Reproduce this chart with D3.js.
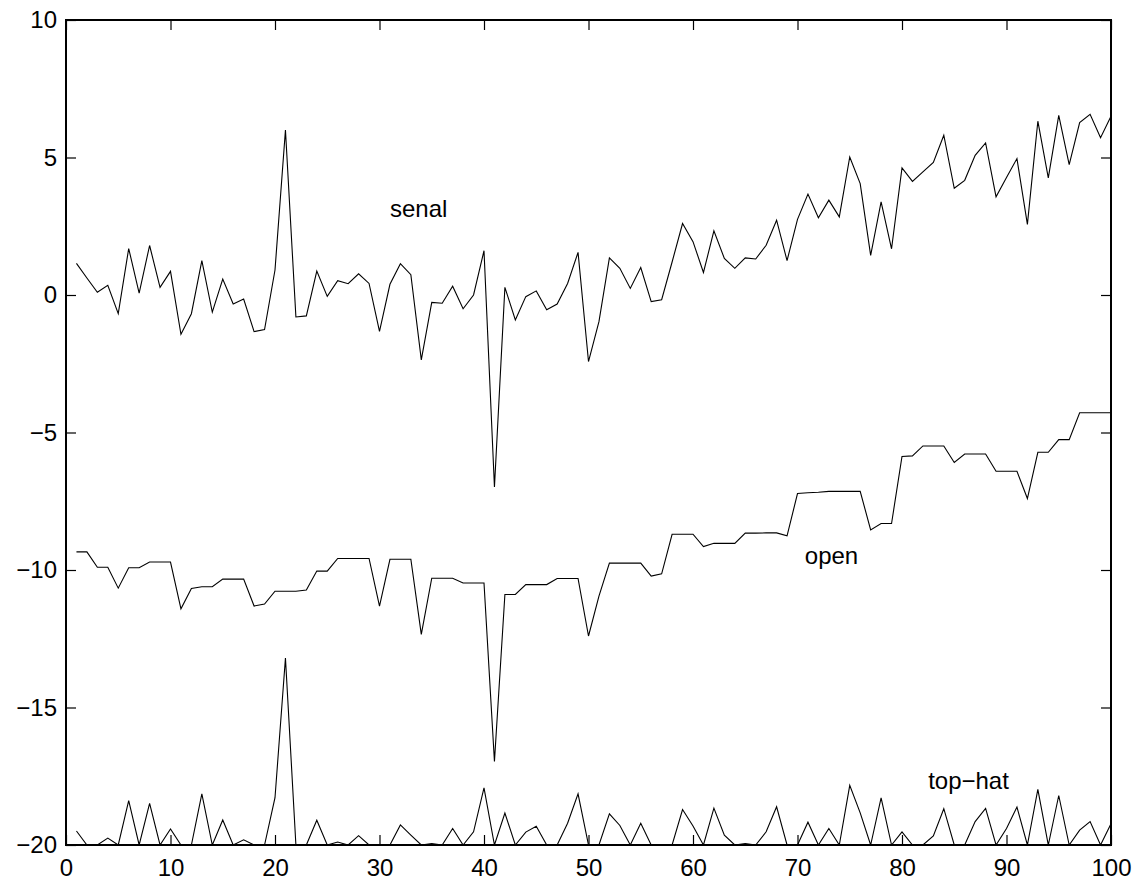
<!DOCTYPE html>
<html>
<head>
<meta charset="utf-8">
<script src="https://cdn.jsdelivr.net/npm/d3@7"></script>
<style>
  html, body { margin: 0; padding: 0; background: #fff; }
  svg { display: block; }
  text { font-family: "Liberation Sans", Arial, Helvetica, sans-serif; fill: #000; }
</style>
</head>
<body>
<svg id="chart" width="1141" height="889"></svg>
<script>
// ---- data ----
const xValues = d3.range(1, 101);

const senal = [
  1.15, 0.62, 0.10, 0.35, -0.68, 1.69, 0.07, 1.80, 0.28, 0.86,
  -1.43, -0.68, 1.25, -0.62, 0.58, -0.33, -0.15, -1.33, -1.26, 0.91,
  6.00, -0.80, -0.76, 0.87, -0.05, 0.52, 0.41, 0.77, 0.42, -1.32,
  0.39, 1.14, 0.74, -2.36, -0.27, -0.30, 0.32, -0.50, 0.00, 1.61,
  -6.98, 0.28, -0.91, -0.06, 0.15, -0.54, -0.33, 0.42, 1.55, -2.42,
  -0.97, 1.35, 0.97, 0.24, 1.00, -0.24, -0.17, 1.20, 2.60, 1.94,
  0.82, 2.33, 1.33, 0.97, 1.35, 1.31, 1.81, 2.72, 1.25, 2.75,
  3.67, 2.81, 3.45, 2.84, 5.02, 4.05, 1.44, 3.39, 1.68, 4.62,
  4.13, 4.48, 4.82, 5.81, 3.88, 4.17, 5.08, 5.53, 3.57, 4.27,
  4.96, 2.57, 6.32, 4.26, 6.53, 4.74, 6.27, 6.57, 5.72, 6.50
];

const openSeries = [
  -9.34, -9.34, -9.90, -9.90, -10.66, -9.92, -9.92, -9.71, -9.71, -9.71,
  -11.41, -10.67, -10.61, -10.61, -10.33, -10.33, -10.33, -11.31, -11.24, -10.77,
  -10.77, -10.77, -10.73, -10.04, -10.04, -9.58, -9.58, -9.58, -9.58, -11.31,
  -9.61, -9.61, -9.61, -12.34, -10.30, -10.30, -10.30, -10.47, -10.47, -10.47,
  -16.96, -10.89, -10.89, -10.53, -10.53, -10.53, -10.31, -10.31, -10.31, -12.40,
  -10.95, -9.75, -9.75, -9.75, -9.75, -10.22, -10.14, -8.70, -8.70, -8.70,
  -9.15, -9.03, -9.03, -9.03, -8.66, -8.66, -8.65, -8.65, -8.76, -7.22,
  -7.19, -7.17, -7.14, -7.14, -7.14, -7.14, -8.54, -8.31, -8.31, -5.87,
  -5.85, -5.49, -5.49, -5.49, -6.09, -5.78, -5.78, -5.78, -6.41, -6.41,
  -6.41, -7.40, -5.72, -5.72, -5.26, -5.26, -4.28, -4.28, -4.28, -4.28
];

const topHat = [
  -19.49, -20.00, -20.00, -19.75, -20.00, -18.39, -20.00, -18.49, -20.00, -19.42,
  -20.00, -20.00, -18.14, -20.00, -19.09, -20.00, -19.81, -20.00, -20.00, -18.28,
  -13.20, -20.00, -20.00, -19.10, -20.00, -19.89, -20.00, -19.66, -20.00, -20.00,
  -20.00, -19.27, -19.64, -20.00, -19.95, -20.00, -19.40, -20.00, -19.52, -17.92,
  -20.00, -18.84, -20.00, -19.53, -19.32, -20.00, -20.00, -19.21, -18.14, -20.00,
  -20.00, -18.87, -19.29, -20.00, -19.21, -20.00, -20.00, -20.00, -18.71, -19.31,
  -20.00, -18.66, -19.64, -20.00, -19.95, -20.00, -19.52, -18.61, -20.00, -20.00,
  -19.17, -20.00, -19.40, -20.00, -17.83, -18.83, -20.00, -18.29, -20.00, -19.52,
  -20.00, -20.00, -19.67, -18.68, -20.00, -20.00, -19.15, -18.67, -20.00, -19.40,
  -18.62, -20.00, -17.98, -20.00, -18.20, -20.00, -19.46, -19.15, -20.00, -19.23
];

const xTicks = [0, 10, 20, 30, 40, 50, 60, 70, 80, 90, 100];
const yTicks = [10, 5, 0, -5, -10, -15, -20];

const labelTexts = ["senal", "open", "top\u2212hat"];
const labelX = [31.0, 70.7, 82.5];
const labelY = [3.1, -9.5, -17.7];

// ---- layout ----
const svg = d3.select("#chart");
const padL = 66, padR = 1111, padT = 20, padB = 845;
const x = d3.scaleLinear().domain([0, 100]).range([padL, padR]);
const y = d3.scaleLinear().domain([-20, 10]).range([padB, padT]);

const fmt = d => d < 0 ? "\u2212" + Math.abs(d) : String(d);

// clip
svg.append("clipPath").attr("id", "clip")
  .append("rect").attr("x", padL).attr("y", padT)
  .attr("width", padR - padL).attr("height", padB - padT);

const line = d3.line().x((d, i) => x(xValues[i])).y(d => y(d));

const g = svg.append("g").attr("clip-path", "url(#clip)");
[senal, openSeries, topHat].forEach(series => {
  g.append("path")
    .datum(series)
    .attr("d", line)
    .attr("fill", "none")
    .attr("stroke", "#000")
    .attr("stroke-width", 1.1)
    .attr("stroke-linejoin", "miter");
});

// axes (MATLAB style box, inward ticks)
const tickLen = 10;
const axBottom = svg.append("g").attr("transform", `translate(0,${padB})`)
  .call(d3.axisBottom(x).tickValues(xTicks).tickSizeInner(-tickLen).tickSizeOuter(0).tickPadding(14).tickFormat(fmt));
const axTop = svg.append("g").attr("transform", `translate(0,${padT})`)
  .call(d3.axisTop(x).tickValues(xTicks).tickSizeInner(-tickLen).tickSizeOuter(0).tickFormat(""));
const axLeft = svg.append("g").attr("transform", `translate(${padL},0)`)
  .call(d3.axisLeft(y).tickValues(yTicks).tickSizeInner(-tickLen).tickSizeOuter(0).tickPadding(9).tickFormat(fmt));
const axRight = svg.append("g").attr("transform", `translate(${padR},0)`)
  .call(d3.axisRight(y).tickValues(yTicks).tickSizeInner(-tickLen).tickSizeOuter(0).tickFormat(""));

[axBottom, axTop, axLeft, axRight].forEach(a => {
  a.select(".domain").remove();
  a.selectAll(".tick line").attr("stroke", "#000").attr("stroke-width", 1.2);
  a.selectAll(".tick text").attr("font-size", 24).attr("font-family", "Liberation Sans, Arial, sans-serif").attr("fill", "#000");
});
axBottom.selectAll(".tick text").attr("dy", "0.71em");

// frame
svg.append("rect")
  .attr("x", padL).attr("y", padT)
  .attr("width", padR - padL).attr("height", padB - padT)
  .attr("fill", "none").attr("stroke", "#000").attr("stroke-width", 2);

// labels
labelTexts.forEach((t, i) => {
  svg.append("text")
    .attr("x", x(labelX[i]))
    .attr("y", y(labelY[i]))
    .attr("dy", "0.32em")
    .attr("font-size", 24)
    .text(t);
});
</script>
</body>
</html>
